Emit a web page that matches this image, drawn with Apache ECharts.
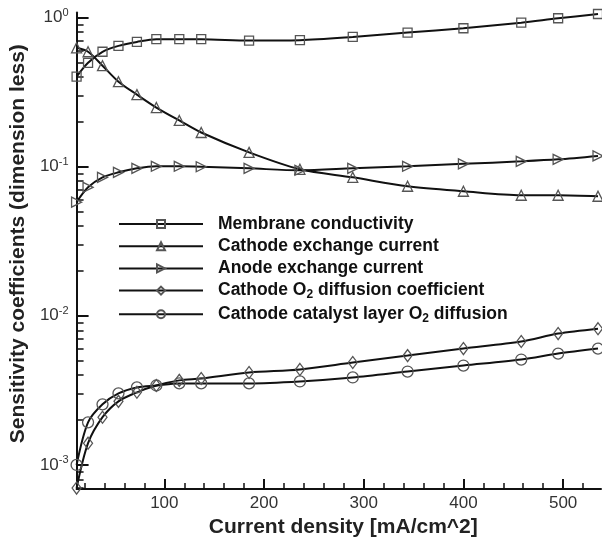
<!DOCTYPE html>
<html><head><meta charset="utf-8">
<script src="https://cdn.jsdelivr.net/npm/echarts@6/dist/echarts.min.js"></script>
<style>html,body{margin:0;padding:0;background:#fff}#c{width:602px;height:543px}</style>
</head><body><div id="c"></div>
<script>
const currentDensity = [12, 23.5, 38, 54, 72.5, 92, 115, 137, 185, 236, 289, 344, 400, 458, 495, 535];
const membraneConductivity = [0.401, 0.497, 0.589, 0.645, 0.686, 0.715, 0.715, 0.715, 0.700, 0.705, 0.741, 0.792, 0.847, 0.923, 0.988, 1.055];
const cathodeExchange = [0.626, 0.589, 0.475, 0.371, 0.304, 0.249, 0.204, 0.1694, 0.1246, 0.0960, 0.0848, 0.0739, 0.0684, 0.0643, 0.0643, 0.0633];
const anodeExchange = [0.0578, 0.0727, 0.0848, 0.0916, 0.0974, 0.1005, 0.1005, 0.0999, 0.0974, 0.0945, 0.0974, 0.1005, 0.1044, 0.1085, 0.1119, 0.1180];
const cathodeO2Diffusion = [0.00070, 0.00140, 0.00209, 0.00267, 0.00307, 0.00341, 0.00369, 0.00380, 0.00417, 0.00437, 0.00486, 0.00541, 0.00603, 0.00672, 0.00760, 0.00820];
const catalystLayerO2 = [0.00100, 0.00193, 0.00255, 0.00302, 0.00331, 0.00341, 0.00352, 0.00352, 0.00352, 0.00363, 0.00386, 0.00423, 0.00464, 0.00509, 0.00558, 0.00603];
const seriesNames = ['Membrane conductivity', 'Cathode exchange current', 'Anode exchange current', 'Cathode O2 diffusion coefficient', 'Cathode catalyst layer O2 diffusion'];
const xMajorTicks = [100, 200, 300, 400, 500];
const xMinorTicks = [20, 40, 60, 80, 120, 140, 160, 180, 220, 240, 260, 280, 320, 340, 360, 380, 420, 440, 460, 480, 520];
const yMajorTicks = [0.001, 0.01, 0.1, 1];
const yMinorTicks = [0.0007, 0.0008, 0.0009, 0.002, 0.003, 0.004, 0.005, 0.006, 0.007, 0.008, 0.009, 0.02, 0.03, 0.04, 0.05, 0.06, 0.07, 0.08, 0.09, 0.2, 0.3, 0.4, 0.5, 0.6, 0.7, 0.8, 0.9];

const FONT = 'Liberation Sans, Arial, Helvetica, sans-serif';
const X_MIN = 12, X_MAX = 538, Y_MIN = 0.00069, Y_MAX = 1.08;

const seriesData = [membraneConductivity, cathodeExchange, anodeExchange, cathodeO2Diffusion, catalystLayerO2];
const symbols = ['rect', 'triangle', 'triangle', 'diamond', 'circle'];
const symbolRotates = [0, 0, -90, 0, 0];
const symbolSizes = [9, 10, 10, [9, 12], 11];

const chart = echarts.init(document.getElementById('c'), null, {renderer: 'canvas'});
const series = seriesNames.map((name, i) => ({
  name: name,
  type: 'line',
  xAxisIndex: 0, yAxisIndex: 0,
  data: currentDensity.map((x, j) => [x, seriesData[i][j]]),
  smooth: 0.3,
  symbol: symbols[i],
  symbolRotate: symbolRotates[i],
  symbolSize: symbolSizes[i],
  showAllSymbol: true,
  lineStyle: {color: '#111', width: 2},
  itemStyle: {color: 'rgba(0,0,0,0)', borderColor: '#555', borderWidth: 1.3},
  emphasis: {disabled: true},
  animation: false
}));

chart.setOption({
  backgroundColor: '#fff',
  animation: false,
  grid: {left: 75, right: 1, top: 12.5, bottom: 52, containLabel: false},
  legend: {
    orient: 'vertical', left: 118, top: 215, padding: 0,
    itemWidth: 84, itemHeight: 10, itemGap: 4.2,
    data: seriesNames,
    formatter: n => n.replace('O2', 'O{sub|2}'),
    textStyle: {fontSize: 17.5, fontWeight: 'bold', color: '#111', fontFamily: FONT, padding: [0, 0, 0, 10],
      rich: {sub: {fontSize: 12, fontWeight: 'bold', fontFamily: FONT, color: '#111', padding: [9, 0, 0, 0]}}},
    selectedMode: false
  },
  xAxis: [{
    type: 'value', min: X_MIN, max: X_MAX, position: 'bottom',
    axisLine: {lineStyle: {color: '#111', width: 2}},
    axisTick: {inside: true, length: 10, customValues: xMajorTicks, lineStyle: {color: '#111', width: 2}},
    axisLabel: {customValues: xMajorTicks, fontSize: 17, color: '#333', margin: 6, fontFamily: FONT},
    splitLine: {show: false},
    name: 'Current density [mA/cm^2]', nameLocation: 'middle', nameGap: 28,
    nameTextStyle: {fontSize: 21, fontWeight: 'bold', color: '#222', fontFamily: FONT, padding: [0, 0, 0, 9]}
  }, {
    type: 'value', min: X_MIN, max: X_MAX, position: 'bottom',
    axisLine: {show: false},
    axisTick: {inside: true, length: 6, customValues: xMinorTicks, lineStyle: {color: '#111', width: 1.5}},
    axisLabel: {show: false}, splitLine: {show: false}
  }],
  yAxis: [{
    type: 'log', logBase: 10, min: Y_MIN, max: Y_MAX, position: 'left',
    axisLine: {show: true, lineStyle: {color: '#111', width: 2}},
    axisTick: {show: true, inside: true, length: 12, customValues: yMajorTicks, lineStyle: {color: '#111', width: 2}},
    axisLabel: {customValues: yMajorTicks, fontSize: 17, color: '#333', margin: 8, fontFamily: FONT,
      formatter: v => '10{sup|' + Math.round(Math.log10(v)) + '}',
      rich: {sup: {fontSize: 11, color: '#333', fontFamily: FONT, padding: [0, 0, 10, 0]}}},
    splitLine: {show: false},
    name: 'Sensitivity coefficients (dimension less)', nameLocation: 'middle', nameGap: 43,
    nameTextStyle: {fontSize: 21, fontWeight: 'bold', color: '#222', fontFamily: FONT, padding: [0, 0, 0, 14]}
  }, {
    type: 'log', logBase: 10, min: Y_MIN, max: Y_MAX, position: 'left',
    axisLine: {show: false},
    axisTick: {show: true, inside: true, length: 7, customValues: yMinorTicks, lineStyle: {color: '#111', width: 1.5}},
    axisLabel: {show: false}, splitLine: {show: false}
  }],
  series: series
});
</script></body></html>
